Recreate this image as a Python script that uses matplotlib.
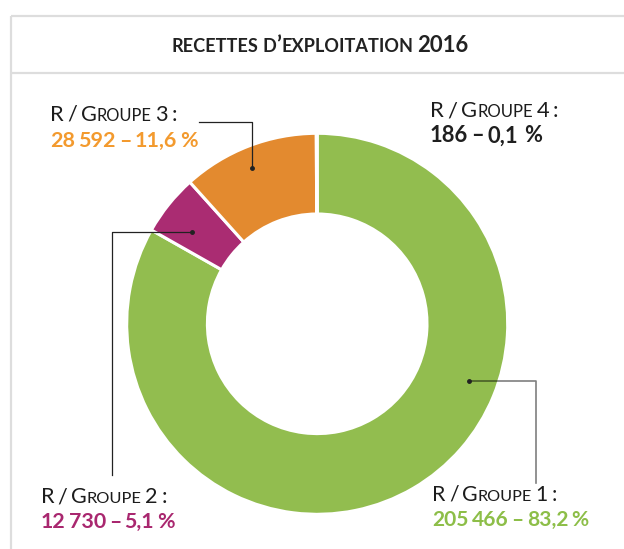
import matplotlib
matplotlib.use("Agg")
import matplotlib.pyplot as plt

# ---- data ----
categories = ["Groupe 1", "Groupe 2", "Groupe 3", "Groupe 4"]
values = [205466, 12730, 28592, 186]
value_texts = ["205 466", "12 730", "28 592", "186"]
percent_texts = ["83,2 %", "5,1 %", "11,6 %", "0,1  %"]
title = "recettes d’exploitation 2016"

slice_colors = ["#92BD4F", "#AA2C72", "#E38A2F", "#222222"]
text_colors = ["#8DBE48", "#A9276F", "#F39A2E", "#1f1f1f"]

W, H = 624, 549
fig = plt.figure(figsize=(W / 100, H / 100), dpi=100)
ax = fig.add_axes([0, 0, 1, 1])


def Y(y):
    return H - y


ax.pie(values, startangle=90, counterclock=False, colors=slice_colors,
       center=(317.2, Y(323.8)), radius=190.5,
       wedgeprops=dict(width=80.7, edgecolor="white", linewidth=2.2))
ax.set_xlim(0, W)
ax.set_ylim(0, H)
ax.set_aspect("auto")
ax.axis("off")

# frame
border = "#DDDDDD"
ax.plot([11, 11], [Y(16), Y(549)], color=border, lw=1.6, solid_capstyle="butt")
ax.plot([11, W], [Y(16), Y(16)], color=border, lw=1.6, solid_capstyle="butt")
ax.plot([11, W], [Y(73), Y(73)], color=border, lw=1.6, solid_capstyle="butt")

renderer = fig.canvas.get_renderer()
FONT = "Lato"


def measure(s, size, weight):
    t = ax.text(0, 0, s, fontsize=size, fontfamily=FONT, fontweight=weight)
    w = t.get_window_extent(renderer).width
    t.remove()
    return w


def runs_of(s):
    runs = []
    for ch in s:
        if ch == " ":
            kind = "space"
        elif ch.islower():
            kind = "small"
        else:
            kind = "big"
        if runs and runs[-1][0] == kind:
            runs[-1][1] += ch
        else:
            runs.append([kind, ch])
    return runs


def smallcaps(x, y, s, size, target_w, color, weight="normal",
              small_ratio=0.78, ha="left", space_scale=0.7):
    runs = runs_of(s)

    def layout(sz):
        out = []
        total = 0
        sp = (measure("H H", sz, weight) - measure("HH", sz, weight)) * space_scale
        for kind, txt in runs:
            if kind == "space":
                w = sp * len(txt)
                out.append((kind, txt, sz, w))
            else:
                fs = sz * (small_ratio if kind == "small" else 1.0)
                u = txt.upper()
                w = measure(u, fs, weight)
                out.append((kind, u, fs, w))
            total += w
        return out, total

    lay, total = layout(size)
    if target_w:
        size = size * target_w / total
        lay, total = layout(size)
    cx = x - total / 2 if ha == "center" else x
    for kind, txt, fs, w in lay:
        if kind != "space":
            ax.text(cx, y, txt, fontsize=fs, fontfamily=FONT, fontweight=weight,
                    color=color, va="baseline", ha="left")
        cx += w


# title
smallcaps(320, Y(52.5), title, 14, 296, "#222222", weight="bold",
          small_ratio=0.82, ha="center", space_scale=0.8)

# label layout: (x, label baseline, label width, value baseline, value width)
label_pos = {
    "Groupe 1": (432, 500.7, 124, 525.7, 156),
    "Groupe 2": (40.7, 503, 126, 528, 134),
    "Groupe 3": (50, 120.7, 127, 146.7, 147),
    "Groupe 4": (430, 117.3, 128, 142.3, 112),
}

for i, cat in enumerate(categories):
    x, yb, lw_, yv, vw = label_pos[cat]
    smallcaps(x, Y(yb), "R / " + cat + " :", 13, lw_, "#1c1c1c",
              weight="normal", small_ratio=0.76, space_scale=0.65)
    smallcaps(x, Y(yv), value_texts[i] + " – " + percent_texts[i], 13, vw,
              text_colors[i], weight="bold", space_scale=0.6)

# callout lines
dark = "#222222"
# group 3
ax.plot([252.3, 252.3, 199.3], [Y(167.7), Y(121.7), Y(121.7)], color=dark, lw=0.9)
ax.plot([252.3], [Y(167.7)], "o", color=dark, ms=2.5)
# group 2
ax.plot([192.3, 112.3, 112.3], [Y(232.3), Y(232.3), Y(475)], color=dark, lw=0.9)
ax.plot([192.3], [Y(232.3)], "o", color=dark, ms=2.5)
# group 1
ax.plot([469.3, 536, 536], [Y(381), Y(381), Y(483)], color="black", alpha=0.5, lw=1.2)
ax.plot([469.3], [Y(381)], "o", color=dark, ms=2.5)

fig.savefig("out.png", dpi=100)
